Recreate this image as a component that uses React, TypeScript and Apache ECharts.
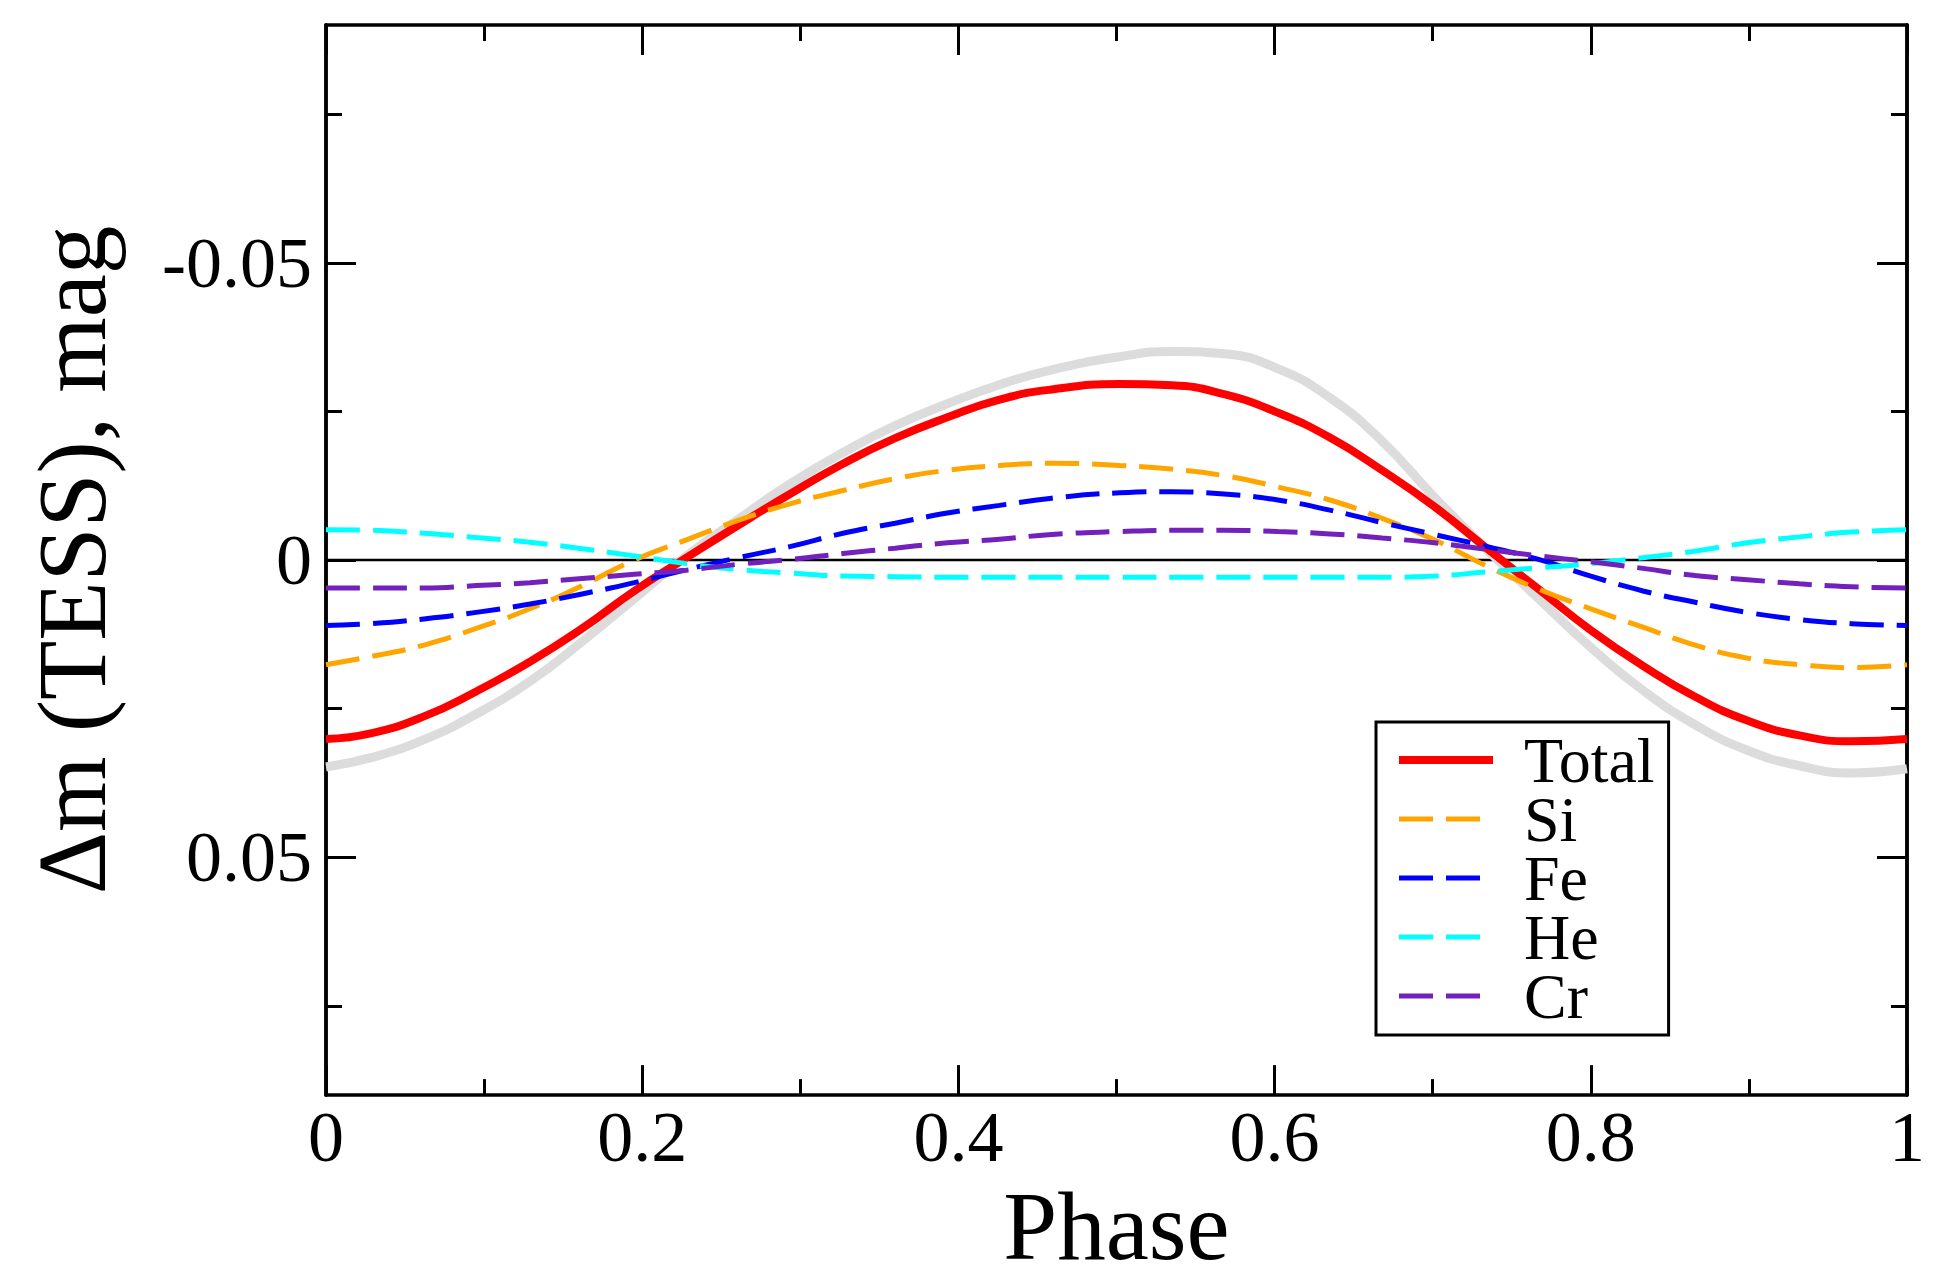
import React, { useEffect, useRef } from "react";
import * as echarts from "echarts";

const phase = [0, 0.029, 0.062, 0.095, 0.129, 0.162, 0.195, 0.228, 0.261, 0.294, 0.327, 0.36, 0.393, 0.426, 0.459, 0.502,
  0.535, 0.568, 0.602, 0.635, 0.668, 0.701, 0.734, 0.767, 0.8, 0.833, 0.866, 0.899, 0.932, 0.965, 1.0];

const observed = [0.0348, 0.0332, 0.0302, 0.0259, 0.0204, 0.0137, 0.0065, -0.0007, -0.0069, -0.0129, -0.0181, -0.0226, -0.0263, -0.0295, -0.032, -0.0342,
  -0.0351, -0.0347, -0.0322, -0.0273, -0.02, -0.0106, -0.0018, 0.0065, 0.0147, 0.0219, 0.0277, 0.032, 0.0346, 0.0358, 0.0351];

const total = [0.0301, 0.0291, 0.0263, 0.0221, 0.0171, 0.0115, 0.0052, -0.0004, -0.0059, -0.0112, -0.0162, -0.0205, -0.0240, -0.0270, -0.0287, -0.0296,
  -0.0294, -0.0279, -0.0248, -0.0206, -0.0151, -0.009, -0.002, 0.0049, 0.0118, 0.0178, 0.0230, 0.0270, 0.0295, 0.0305, 0.0301];

const si = [0.0176, 0.0162, 0.0143, 0.0115, 0.0082, 0.0043, 0, -0.0034, -0.0067, -0.0095, -0.0117, -0.0137, -0.0151, -0.0159, -0.0163, -0.0159,
  -0.0153, -0.0142, -0.0123, -0.0101, -0.007, -0.0034, 0.001, 0.0049, 0.0082, 0.0113, 0.0143, 0.0165, 0.0176, 0.0181, 0.0176];

const fe = [0.011, 0.0107, 0.0099, 0.0088, 0.0074, 0.0057, 0.0038, 0.0016, -0.0004, -0.0023, -0.0045, -0.0062, -0.0079, -0.0092, -0.0104, -0.0113,
  -0.0115, -0.0111, -0.0101, -0.0084, -0.0063, -0.0043, -0.0023, -0.0001, 0.0027, 0.0052, 0.0071, 0.0088, 0.01, 0.0107, 0.011];

const he = [-0.0051, -0.005, -0.0045, -0.0038, -0.003, -0.0019, -0.0007, 0.0006, 0.0016, 0.0022, 0.0027, 0.0028, 0.0029, 0.0029, 0.0029, 0.0029,
  0.0029, 0.0029, 0.0029, 0.0029, 0.0029, 0.0027, 0.002, 0.0013, 0.0006, -0.0004, -0.0015, -0.0029, -0.0039, -0.0047, -0.0051];

const cr = [0.0047, 0.0047, 0.0047, 0.0043, 0.0038, 0.0031, 0.0024, 0.0017, 0.0007, -0.0001, -0.0011, -0.002, -0.0029, -0.0035, -0.0043, -0.0048,
  -0.005, -0.005, -0.0048, -0.0044, -0.0037, -0.0029, -0.0018, -0.0007, 0.0003, 0.0014, 0.0026, 0.0033, 0.004, 0.0045, 0.0047];

const zeroLineX = [0, 1];
const zeroLineY = [0, 0];

const yMajorTicks = [-0.05, 0, 0.05];
const yMinorTicks = [-0.075, -0.025, 0.025, 0.075];

const legendNames = ["Total", "Si", "Fe", "He", "Cr"];

const FONT = "Liberation Serif";

function pairs(xs: number[], ys: number[]) {
  return xs.map((x, i) => [x, ys[i]]);
}

export default function App() {
  const ref = useRef<HTMLDivElement>(null);
  useEffect(() => {
    if (!ref.current) return;
    const chart = echarts.init(ref.current, undefined, { renderer: "svg" });
    const axisLine = { show: true, onZero: false, lineStyle: { color: "#000", width: 3.5 } };
    const yBase = (pos: "left" | "right", ticks: number[], len: number, labels: boolean, name?: string) => ({
      type: "value",
      position: pos,
      inverse: true,
      min: -0.09,
      max: 0.09,
      name: name,
      nameLocation: "middle",
      nameGap: 205,
      nameTextStyle: { fontFamily: FONT, fontSize: 97, color: "#000" },
      axisLine,
      splitLine: { show: false },
      axisTick: { show: true, inside: true, length: len, customValues: ticks, lineStyle: { color: "#000", width: 3 } },
      axisLabel: labels
        ? { show: true, customValues: ticks, margin: 14, fontFamily: FONT, fontSize: 72, color: "#000", formatter: (v: number) => (v === 0 ? "0" : String(v)) }
        : { show: false },
    });
    const xBase = (pos: "top" | "bottom", labels: boolean, name?: string) => ({
      type: "value",
      position: pos,
      min: 0,
      max: 1,
      interval: 0.2,
      name: name,
      nameLocation: "middle",
      nameGap: 79,
      nameTextStyle: { fontFamily: FONT, fontSize: 97, color: "#000" },
      axisLine,
      splitLine: { show: false },
      axisTick: { show: true, inside: true, length: 30, lineStyle: { color: "#000", width: 3 } },
      minorTick: { show: true, splitNumber: 2, length: 16, lineStyle: { color: "#000", width: 3 } },
      minorSplitLine: { show: false },
      axisLabel: labels
        ? { show: true, margin: 6, fontFamily: FONT, fontSize: 72, color: "#000", formatter: (v: number) => String(Math.round(v * 10) / 10) }
        : { show: false },
    });
    const option: any = {
      animation: false,
      backgroundColor: "#fff",
      grid: { left: 326, right: 36, top: 25, bottom: 172, containLabel: false },
      xAxis: [xBase("bottom", true, "Phase"), xBase("top", false)],
      yAxis: [
        yBase("left", yMajorTicks, 30, true, "Δm (TESS), mag"),
        yBase("left", yMinorTicks, 16, false),
        yBase("right", yMajorTicks, 30, false),
        yBase("right", yMinorTicks, 16, false),
      ],
      legend: {
        data: legendNames.map((n) => (n === "Total" ? { name: n, lineStyle: { width: 8 } } : { name: n })),
        orient: "vertical",
        left: 1376,
        top: 722,
        padding: [6, 14, 7, 19],
        itemWidth: 94,
        itemHeight: 20,
        itemGap: -5,
        backgroundColor: "#fff",
        borderColor: "#000",
        borderWidth: 3,
        borderRadius: 0,
        selectedMode: false,
        itemStyle: { opacity: 0 },
        lineStyle: { width: 5 },
        textStyle: { fontFamily: FONT, fontSize: 64, color: "#000", padding: [0, 0, 0, 26] },
      },
      series: [
        {
          name: "zero",
          type: "line",
          data: pairs(zeroLineX, zeroLineY),
          symbol: "none",
          lineStyle: { color: "#000", width: 2.5 },
          z: 1,
          silent: true,
        },
        {
          name: "Observed",
          type: "line",
          data: pairs(phase, observed),
          symbol: "none",
          smooth: 0.5,
          lineStyle: { color: "#dcdcdc", width: 9 },
          z: 2,
          silent: true,
        },
        {
          name: "Total",
          type: "line",
          data: pairs(phase, total),
          symbol: "none",
          smooth: 0.5,
          itemStyle: { color: "#ff0000" },
          lineStyle: { color: "#ff0000", width: 8 },
          z: 3,
        },
        {
          name: "Si",
          type: "line",
          data: pairs(phase, si),
          symbol: "none",
          smooth: 0.5,
          itemStyle: { color: "#ffa500" },
          lineStyle: { color: "#ffa500", width: 5, type: [34, 13] },
          z: 4,
        },
        {
          name: "Fe",
          type: "line",
          data: pairs(phase, fe),
          symbol: "none",
          smooth: 0.5,
          itemStyle: { color: "#0000ff" },
          lineStyle: { color: "#0000ff", width: 5, type: [34, 13] },
          z: 4,
        },
        {
          name: "He",
          type: "line",
          data: pairs(phase, he),
          symbol: "none",
          smooth: 0.5,
          itemStyle: { color: "#00ffff" },
          lineStyle: { color: "#00ffff", width: 5, type: [34, 13] },
          z: 4,
        },
        {
          name: "Cr",
          type: "line",
          data: pairs(phase, cr),
          symbol: "none",
          smooth: 0.5,
          itemStyle: { color: "#7221bc" },
          lineStyle: { color: "#7221bc", width: 5, type: [34, 13] },
          z: 4,
        },
      ],
    };
    chart.setOption(option);
    return () => chart.dispose();
  }, []);
  return <div ref={ref} style={{ width: 1943, height: 1280, position: "absolute", left: 0, top: 0 }} />;
}
